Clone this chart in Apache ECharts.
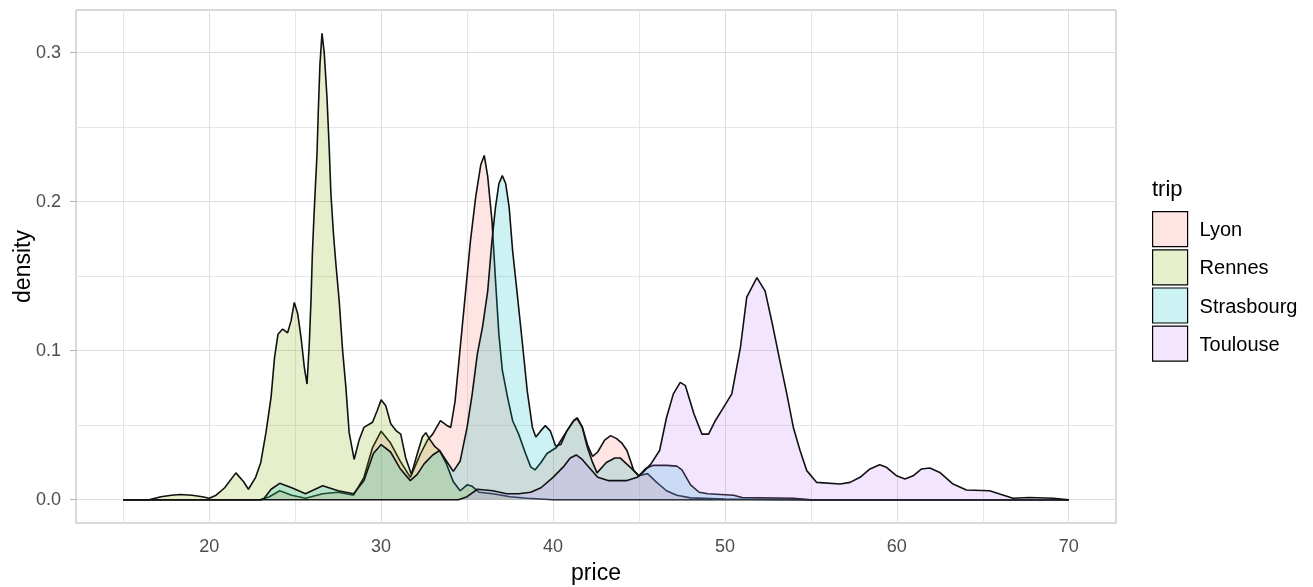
<!DOCTYPE html>
<html>
<head>
<meta charset="utf-8">
<title>Ticket price density by trip</title>
<script src="https://cdn.jsdelivr.net/npm/echarts@6/dist/echarts.min.js"></script>
<style>
  html, body { margin: 0; padding: 0; background: #fff; }
  #chart { width: 1313px; height: 587px; }
</style>
</head>
<body>
<div id="chart"></div>
<script>
// Trips shown in the legend, in drawing order
const trips = ['Lyon', 'Rennes', 'Strasbourg', 'Toulouse'];

// Kernel density estimates of ticket price, [price, density]
const lyonDensity = [
  [15, 0], [23, 0], [23.5, 0.002], [24.1, 0.006], [24.8, 0.003], [25.6, 0.001], [26.6, 0.004],
  [27.5, 0.005], [28.4, 0.003], [29.0, 0.015], [29.5, 0.035], [30.0, 0.046], [30.55, 0.038],
  [31.1, 0.026], [31.7, 0.015], [32.3, 0.031], [32.7, 0.040], [33.0, 0.044], [33.45, 0.053],
  [33.8, 0.050], [34.05, 0.0485], [34.3, 0.066], [34.6, 0.102], [34.9, 0.138], [35.2, 0.174],
  [35.5, 0.203], [35.8, 0.225], [36.0, 0.231], [36.2, 0.217], [36.45, 0.187], [36.65, 0.148],
  [36.85, 0.111], [37.05, 0.087], [37.35, 0.069], [37.65, 0.053], [38.0, 0.044], [38.4, 0.031],
  [38.7, 0.022], [38.95, 0.020], [39.3, 0.025], [39.65, 0.031], [40.2, 0.035], [40.8, 0.046],
  [41.2, 0.053], [41.4, 0.055], [41.7, 0.049], [42.0, 0.037], [42.3, 0.029], [42.6, 0.032],
  [43.0, 0.040], [43.35, 0.043], [43.7, 0.041], [44.0, 0.038], [44.3, 0.033], [44.7, 0.0195],
  [45.0, 0.016], [45.5, 0.0175], [46.0, 0.012], [46.6, 0.006], [47.2, 0.003], [48.0, 0.0012],
  [50, 0.0005], [53, 0.0002], [55, 0], [70, 0]
];
const rennesDensity = [
  [15, 0], [16.5, 0], [17.2, 0.002], [17.8, 0.003], [18.3, 0.0035], [19, 0.003], [19.6, 0.002],
  [20, 0.001], [20.4, 0.003], [20.9, 0.008], [21.55, 0.018], [22.0, 0.012], [22.28, 0.007],
  [22.7, 0.015], [23.0, 0.025], [23.3, 0.045], [23.6, 0.069], [23.8, 0.0955], [24.0, 0.111],
  [24.27, 0.1145], [24.56, 0.112], [24.76, 0.120], [24.95, 0.1324], [25.15, 0.1246],
  [25.34, 0.109], [25.53, 0.089], [25.69, 0.0776], [25.82, 0.1045], [25.92, 0.1336],
  [26.0, 0.165], [26.1, 0.192], [26.27, 0.232], [26.34, 0.259], [26.44, 0.292], [26.56, 0.313],
  [26.69, 0.300], [26.85, 0.270], [26.98, 0.236], [27.08, 0.205], [27.23, 0.178], [27.37, 0.158],
  [27.56, 0.1336], [27.76, 0.100], [27.95, 0.0754], [28.14, 0.045], [28.43, 0.027], [28.72, 0.040],
  [29.0, 0.0485], [29.5, 0.052], [29.78, 0.060], [30.0, 0.067], [30.27, 0.063], [30.56, 0.051],
  [30.9, 0.046], [31.14, 0.044], [31.43, 0.028], [31.76, 0.017], [32.1, 0.0306], [32.4, 0.042],
  [32.6, 0.045], [32.8, 0.041], [33.1, 0.036], [33.4, 0.033], [33.8, 0.024], [34.2, 0.012],
  [34.6, 0.006], [35.0, 0.010], [35.3, 0.009], [35.7, 0.005], [36.5, 0.004], [37.5, 0.002],
  [38.5, 0.001], [40, 0], [70, 0]
];
const strasbourgDensity = [
  [15, 0], [23, 0], [23.2, 0.001], [23.6, 0.007], [24.1, 0.011], [24.8, 0.008], [25.6, 0.004],
  [26.6, 0.0094], [27.5, 0.006], [28.4, 0.004], [29.0, 0.0128], [29.55, 0.031], [30.0, 0.037],
  [30.55, 0.032], [31.1, 0.021], [31.7, 0.0128], [32.1, 0.017], [32.5, 0.024], [33.0, 0.030],
  [33.4, 0.033], [33.8, 0.026], [34.2, 0.019], [34.6, 0.026], [35.0, 0.0485], [35.3, 0.071],
  [35.6, 0.098], [35.9, 0.116], [36.2, 0.140], [36.45, 0.174], [36.65, 0.196], [36.85, 0.212],
  [37.05, 0.2175], [37.25, 0.212], [37.45, 0.196], [37.65, 0.167], [37.9, 0.140], [38.2, 0.107],
  [38.5, 0.073], [38.8, 0.0485], [39.0, 0.042], [39.27, 0.046], [39.55, 0.0497], [39.85, 0.046],
  [40.15, 0.036], [40.45, 0.037], [40.8, 0.046], [41.2, 0.053], [41.4, 0.0545], [41.7, 0.0485],
  [42.0, 0.035], [42.3, 0.025], [42.56, 0.018], [43.1, 0.025], [43.6, 0.028], [43.9, 0.028],
  [44.5, 0.0217], [45.0, 0.016], [45.4, 0.021], [45.8, 0.023], [46.6, 0.023], [47.2, 0.0225],
  [47.5, 0.020], [48.0, 0.010], [48.5, 0.005], [49.0, 0.004], [50.5, 0.003], [51, 0.0015],
  [54, 0.001], [55, 0], [70, 0]
];
const toulouseDensity = [
  [15, 0], [34.5, 0], [35.0, 0.002], [35.6, 0.007], [36.5, 0.006], [37.3, 0.004], [38.0, 0.004],
  [38.7, 0.005], [39.3, 0.008], [40.0, 0.015], [40.6, 0.022], [41.0, 0.028], [41.35, 0.030],
  [41.7, 0.027], [42.0, 0.023], [42.6, 0.015], [43.2, 0.0128], [44.3, 0.0128], [44.9, 0.015],
  [45.2, 0.018], [45.7, 0.024], [46.2, 0.033], [46.6, 0.055], [47.0, 0.071], [47.4, 0.0787],
  [47.7, 0.0765], [48.2, 0.0575], [48.66, 0.044], [49.05, 0.044], [49.44, 0.053], [49.92, 0.062],
  [50.4, 0.071], [50.9, 0.102], [51.27, 0.136], [51.86, 0.149], [52.34, 0.140], [52.8, 0.1157],
  [53.2, 0.093], [53.6, 0.071], [53.98, 0.0485], [54.37, 0.033], [54.76, 0.0195], [55.34, 0.0116],
  [56.7, 0.0105], [57.28, 0.0116], [57.86, 0.015], [58.44, 0.0206], [59.0, 0.0235], [59.4, 0.0217],
  [59.99, 0.016], [60.47, 0.0139], [60.95, 0.016], [61.44, 0.0206], [61.92, 0.0213], [62.5, 0.0183],
  [63.27, 0.0105], [64.05, 0.0065], [65.4, 0.006], [65.98, 0.0038], [66.76, 0.001], [67.7, 0.0015],
  [69.1, 0.001], [70, 0]
];
const tripDensities = [lyonDensity, rennesDensity, strasbourgDensity, toulouseDensity];

// Axis breaks
const priceTicks = [20, 30, 40, 50, 60, 70];
const priceMinorTicks = [15, 25, 35, 45, 55, 65];
const densityTicks = [0, 0.1, 0.2, 0.3];
const densityMinorTicks = [0.05, 0.15, 0.25];

// Default discrete hue palette, filled at 20% opacity
const hues = ['#F8766D', '#7CAE00', '#00BFC4', '#C77CFF'];
const fillAlpha = 0.2;
const FONT = '"Liberation Sans", Arial, sans-serif';

function withAlpha(hex, a) {
  const n = parseInt(hex.slice(1), 16);
  return 'rgba(' + (n >> 16 & 255) + ',' + (n >> 8 & 255) + ',' + (n & 255) + ',' + a + ')';
}

// Panel limits padded by 5% on each side of the data range
const allPrices = tripDensities.flat().map(p => p[0]);
const allDens = tripDensities.flat().map(p => p[1]);
const pMin = Math.min(...allPrices), pMax = Math.max(...allPrices);
const dMax = Math.max(...allDens);
const pPad = (pMax - pMin) * 0.05;
const dPad = dMax * 0.05;

const gridLine = (color) => ({ color: color, width: 1, type: 'solid' });
const gridMarks = [];
priceMinorTicks.forEach(v => gridMarks.push({ xAxis: v, lineStyle: gridLine('#e6e6e6') }));
densityMinorTicks.forEach(v => gridMarks.push({ yAxis: v, lineStyle: gridLine('#e6e6e6') }));
priceTicks.forEach(v => gridMarks.push({ xAxis: v, lineStyle: gridLine('#dedede') }));
densityTicks.forEach(v => gridMarks.push({ yAxis: v, lineStyle: gridLine('#dedede') }));

const chart = echarts.init(document.getElementById('chart'), null, { renderer: 'canvas' });

const series = trips.map((name, i) => ({
  name: name,
  type: 'line',
  data: tripDensities[i],
  symbol: 'none',
  showSymbol: false,
  smooth: false,
  z: 2 + i,
  itemStyle: { color: hues[i] },
  lineStyle: { color: '#111', width: 1.6 },
  areaStyle: { color: hues[i], opacity: fillAlpha, origin: 'auto' },
  emphasis: { disabled: true },
  silent: true
}));

// Panel grid lines, drawn beneath the density areas
series.unshift({
  type: 'line',
  data: [],
  z: 1,
  silent: true,
  markLine: {
    z: 1,
    silent: true,
    symbol: ['none', 'none'],
    label: { show: false },
    animation: false,
    data: gridMarks
  }
});

chart.setOption({
  animation: false,
  backgroundColor: '#fff',
  title: {
    text: 'trip',
    left: 1152,
    top: 179,
    padding: 0,
    textStyle: { fontFamily: FONT, fontSize: 22, fontWeight: 'normal', color: '#000' }
  },
  legend: {
    orient: 'vertical',
    left: 1152,
    top: 211,
    padding: 0,
    itemWidth: 35,
    itemHeight: 35,
    itemGap: 2,
    icon: 'rect',
    selectedMode: false,
    data: trips.map((name, i) => ({
      name: name,
      icon: 'rect',
      itemStyle: { color: withAlpha(hues[i], fillAlpha), borderColor: '#000', borderWidth: 1.2, opacity: 1 }
    })),
    formatter: '{t|{name}}',
    textStyle: {
      fontFamily: FONT, fontSize: 20, color: '#000',
      rich: { t: { fontFamily: FONT, fontSize: 20, color: '#000', padding: [3, 0, 0, 7] } }
    }
  },
  grid: {
    left: 76, top: 10, width: 1040, height: 513,
    outerBoundsMode: 'none',
    containLabel: false,
    show: true, borderColor: '#b3b3b3', borderWidth: 1, backgroundColor: 'transparent'
  },
  xAxis: {
    type: 'value',
    min: pMin - pPad,
    max: pMax + pPad,
    axisLine: { show: false },
    splitLine: { show: false },
    axisTick: { show: true, customValues: priceTicks, length: 6, lineStyle: { color: '#b3b3b3', width: 1 } },
    axisLabel: { customValues: priceTicks, color: '#4d4d4d', fontSize: 18, fontFamily: FONT, margin: 15 },
    name: 'price',
    nameLocation: 'middle',
    nameGap: 39,
    nameMoveOverlap: false,
    nameTextStyle: { fontFamily: FONT, fontSize: 23, color: '#000' }
  },
  yAxis: {
    type: 'value',
    min: -dPad,
    max: dMax + dPad,
    axisLine: { show: false },
    splitLine: { show: false },
    axisTick: { show: true, customValues: densityTicks, length: 6, lineStyle: { color: '#b3b3b3', width: 1 } },
    axisLabel: {
      customValues: densityTicks, color: '#4d4d4d', fontSize: 18, fontFamily: FONT, margin: 15,
      formatter: v => v.toFixed(1)
    },
    name: 'density',
    nameLocation: 'middle',
    nameRotate: 90,
    nameGap: 41,
    nameMoveOverlap: false,
    nameTextStyle: { fontFamily: FONT, fontSize: 23, color: '#000' }
  },
  series: series
});
</script>
</body>
</html>
